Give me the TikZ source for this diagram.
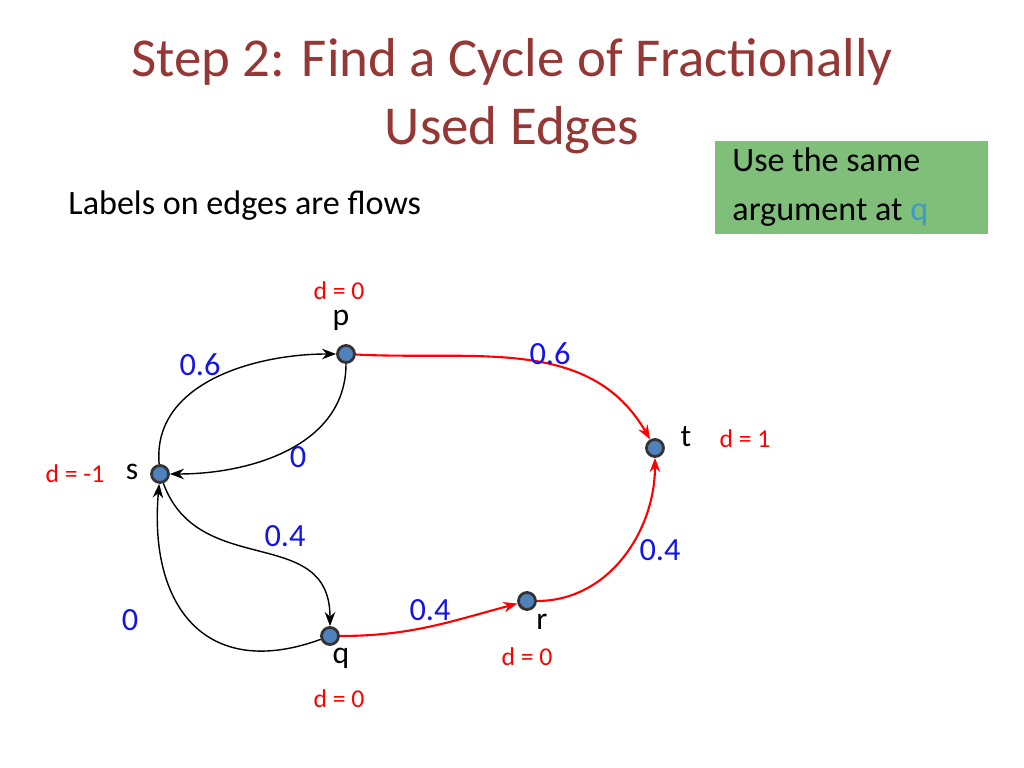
\documentclass[tikz,border=0pt]{standalone}
\usepackage{fontspec}
\setmainfont{Carlito}
\usetikzlibrary{positioning,arrows.meta}
\definecolor{titlered}{RGB}{149,55,53}
\definecolor{boxgreen}{RGB}{128,191,122}
\definecolor{nodeblue}{RGB}{79,129,189}
\definecolor{flowblue}{RGB}{20,20,230}
\begin{document}
\begin{tikzpicture}[x=0.01cm,y=-0.01cm,
  vert/.style={circle,fill=nodeblue,draw=black!80,thick,inner sep=0pt,minimum size=0.17cm},
  flow/.style={font=\fontsize{9.2pt}{11pt}\selectfont,text=flowblue},
  dlab/.style={font=\fontsize{7.3pt}{8pt}\selectfont,text=red},
  vlab/.style={font=\fontsize{9pt}{11pt}\selectfont},
  black edge/.style={->,>={Stealth[length=4pt,width=3pt]},thin},
  red edge/.style={->,>={Stealth[length=4pt,width=3pt]},red,semithick}]
\useasboundingbox (0,0) rectangle (1024,768);

% title and notes
\node[text=titlered,font=\fontsize{15.6pt}{19.5pt}\selectfont,align=center] (title) at (512,96)
  {Step 2: Find a Cycle of Fractionally\\Used Edges};
\node[font=\fontsize{9.7pt}{11pt}\selectfont,anchor=west] (note) at (56,206) {Labels on edges are flows};
\node[fill=boxgreen,minimum width=2.73cm,minimum height=0.93cm,anchor=north west] (box) at (714,140) {};
\node[font=\fontsize{9.7pt}{14pt}\selectfont,align=left,anchor=west] (boxtext) at (720,187)
  {Use the same\\argument at \textcolor{nodeblue!80!cyan}{q}};

% vertices
\node[vert] (p) at (346,354) {};
\node[vert] (t) at (655,448) {};
\node[vert] (s) at (160,474) {};
\node[vert] (q) at (330,636) {};
\node[vert] (r) at (527,601) {};

% vertex names
\node[vlab] at (341,320) {p};
\node[vlab] at (686,437) {t};
\node[vlab] at (132,472) {s};
\node[vlab] at (341,658) {q};
\node[vlab] at (542,622) {r};

% d values
\node[dlab] at (339,291) {d = 0};
\node[dlab] at (745,439) {d = 1};
\node[dlab] at (75,474) {d = -1};
\node[dlab] at (527,657) {d = 0};
\node[dlab] at (339,699) {d = 0};

% edges
\draw[black edge] (s) to[out=95,in=180] (p);
\draw[black edge] (p) to[out=-90,in=0] (s);
\draw[black edge] (s) to[out=-70,in=90,looseness=1.2] (q);
\draw[black edge] (q) to[out=200,in=-95,looseness=1.4] (s);
\draw[red edge] (p) to[out=-3,in=120] (t);
\draw[red edge] (q) to[out=0,in=195] (r);
\draw[red edge] (r) to[out=0,in=-90] (t);

% flows
\node[flow] at (200,365) {0.6};
\node[flow] at (550,354) {0.6};
\node[flow] at (298,457) {0};
\node[flow] at (285,536) {0.4};
\node[flow] at (660,550) {0.4};
\node[flow] at (430,610) {0.4};
\node[flow] at (130,620) {0};
\end{tikzpicture}
\end{document}
